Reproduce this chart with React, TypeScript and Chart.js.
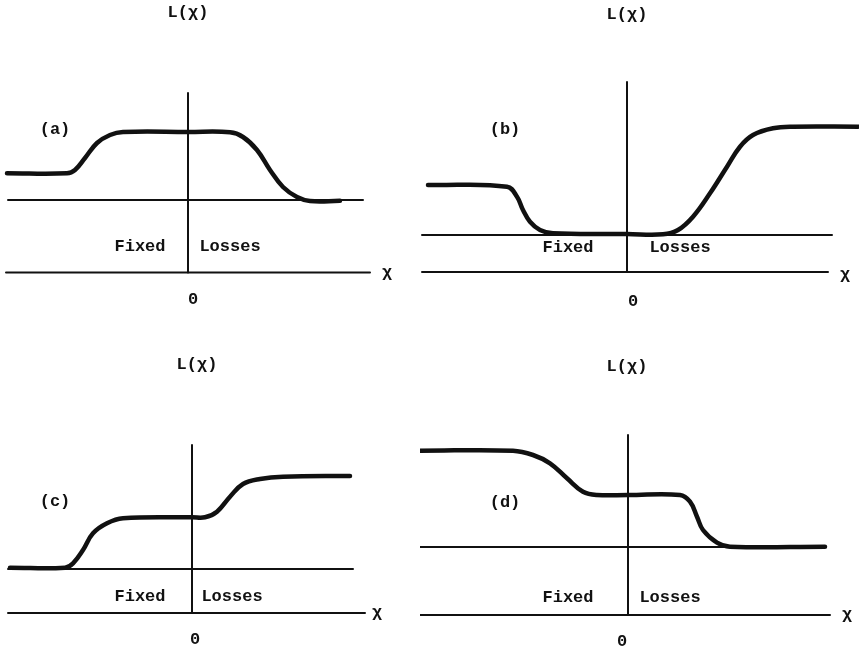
import React, { useEffect, useRef } from "react";
import { Chart, registerables } from "chart.js";

Chart.register(...registerables);

// ---- data (x in chi units, y in L units; 0 = the chi axis) ----
const panelTags = ["(a)", "(b)", "(c)", "(d)"];
const titleText = "L(χ)";
const axisText = "χ";
const originText = "0";
const leftText = "Fixed";
const rightText = "Losses";

const chiA = [-18.1, -12.1, -11.3, -10.3, -9.1, -7.8, -6.5, 0, 4.2, 5.5, 6.9, 8.2, 9.5, 10.9, 12.2, 15.2];
const lossA = [9.92, 9.92, 10.25, 11.45, 12.95, 13.75, 14.05, 14.05, 14.02, 13.55, 12.25, 10.25, 8.55, 7.55, 7.15, 7.17];

const chiB = [-19.9, -12.0, -11.0, -10.4, -9.7, -8.7, -7.4, 0, 3.6, 5.1, 6.6, 8.3, 10.0, 11.3, 12.6, 14.6, 16.6, 23.1];
const lossB = [8.7, 8.53, 7.53, 6.2, 5.03, 4.2, 3.87, 3.8, 3.77, 4.2, 5.53, 7.87, 10.53, 12.53, 13.7, 14.37, 14.53, 14.53];

const chiC = [-18.2, -12.7, -11.9, -10.9, -9.9, -8.5, -6.9, 0, 1.3, 2.5, 3.8, 5.1, 6.8, 9.1, 15.8];
const lossC = [4.53, 4.53, 4.97, 6.3, 7.97, 8.97, 9.47, 9.57, 9.57, 10.13, 11.63, 12.9, 13.4, 13.63, 13.7];

const chiD = [-20.8, -11.5, -9.5, -7.8, -6.1, -4.5, -3.1, 0, 5.2, 6.2, 6.9, 7.5, 8.9, 10.2, 19.7];
const lossD = [16.43, 16.43, 16.0, 15.17, 13.67, 12.33, 12.0, 12.0, 12.0, 11.33, 9.83, 8.5, 7.23, 6.83, 6.83];

const refLevels = [7.25, 3.7, 4.4, 6.8];
const refStart = [-18.0, -20.5, -18.4, -20.8];
const refEnd = [17.5, 20.5, 16.1, 19.7];
const chiAxisStart = [-18.2, -20.5, -18.4, -20.8];
const chiAxisEnd = [18.2, 20.1, 17.3, 20.2];
const lossAxisTop = [17.95, 19.0, 16.8, 18.0];

const curvesX = [chiA, chiB, chiC, chiD];
const curvesY = [lossA, lossB, lossC, lossD];

// ---- layout (pixels) ----
const UNIT_PX = 10;
const panelBoxes = [
  { left: 0, top: 0, w: 420, h: 325, ox: 188, oy: 272.5 },
  { left: 420, top: 0, w: 439, h: 325, ox: 627, oy: 272 },
  { left: 0, top: 325, w: 420, h: 326, ox: 192, oy: 613 },
  { left: 420, top: 325, w: 439, h: 326, ox: 628, oy: 615 },
];
// text offsets from the origin pixel
const textOffsets = [
  { title: [0, -259.5], tag: [-133, -142.5], fixed: [-48, -25.5], losses: [42, -25.5], zero: [5, 27.5], chi: [199, 0] },
  { title: [0, -257], tag: [-122, -142], fixed: [-59, -24], losses: [53, -24], zero: [6, 30], chi: [218, 3] },
  { title: [5, -248], tag: [-137, -111], fixed: [-52, -16], losses: [40, -16], zero: [3, 27], chi: [185, 0] },
  { title: [-1, -248], tag: [-123, -112], fixed: [-60, -17], losses: [42, -17], zero: [-6, 27], chi: [219, 0] },
];

const FONT = "bold 17px 'Liberation Mono', 'Courier New', monospace";
const INK = "#111";

function makeChart(canvas: HTMLCanvasElement, i: number) {
  const box = panelBoxes[i];
  const xMin = (box.left - box.ox) / UNIT_PX;
  const xMax = (box.left + box.w - box.ox) / UNIT_PX;
  const yMax = (box.oy - box.top) / UNIT_PX;
  const yMin = (box.oy - box.top - box.h) / UNIT_PX;
  const off = textOffsets[i];

  const textPlugin = {
    id: "panelText" + i,
    afterDraw(chart: any) {
      const ctx = chart.ctx;
      const px = chart.scales.x.getPixelForValue(0);
      const py = chart.scales.y.getPixelForValue(0);
      ctx.save();
      ctx.fillStyle = INK;
      ctx.font = FONT;
      ctx.textBaseline = "middle";
      ctx.textAlign = "center";
      const put = (t: string, o: number[]) => ctx.fillText(t, px + o[0], py + o[1]);
      put(titleText, off.title);
      put(panelTags[i], off.tag);
      put(leftText, off.fixed);
      put(rightText, off.losses);
      put(originText, off.zero);
      put(axisText, off.chi);
      ctx.restore();
    },
  };

  const lineDs = (data: { x: number; y: number }[], width: number, tension = 0) => ({
    data,
    borderColor: INK,
    borderWidth: width,
    pointRadius: 0,
    fill: false,
    tension,
    borderCapStyle: "round",
    borderJoinStyle: "round",
  });

  const curve = curvesX[i].map((x, k) => ({ x, y: curvesY[i][k] }));

  return new Chart(canvas, {
    type: "line",
    data: {
      datasets: [
        lineDs([{ x: chiAxisStart[i], y: 0 }, { x: chiAxisEnd[i], y: 0 }], 2),
        lineDs([{ x: 0, y: 0 }, { x: 0, y: lossAxisTop[i] }], 2),
        lineDs([{ x: refStart[i], y: refLevels[i] }, { x: refEnd[i], y: refLevels[i] }], 2),
        lineDs(curve, 4.5, 0.4),
      ] as any,
    },
    options: {
      animation: false,
      responsive: false,
      maintainAspectRatio: false,
      layout: { padding: 0 },
      events: [],
      plugins: { legend: { display: false }, tooltip: { enabled: false } },
      scales: {
        x: { type: "linear", min: xMin, max: xMax, display: false },
        y: { type: "linear", min: yMin, max: yMax, display: false },
      },
    } as any,
    plugins: [textPlugin],
  });
}

export default function App() {
  const refs = [useRef<HTMLCanvasElement>(null), useRef<HTMLCanvasElement>(null), useRef<HTMLCanvasElement>(null), useRef<HTMLCanvasElement>(null)];
  useEffect(() => {
    const charts = refs.map((r, i) => makeChart(r.current as HTMLCanvasElement, i));
    return () => charts.forEach((c) => c.destroy());
  }, []);
  return (
    <div style={{ position: "absolute", left: 0, top: 0, width: 859, height: 651, background: "#fff", overflow: "hidden" }}>
      {panelBoxes.map((b, i) => (
        <canvas
          key={i}
          ref={refs[i]}
          width={b.w}
          height={b.h}
          style={{ position: "absolute", left: b.left, top: b.top, width: b.w, height: b.h }}
        />
      ))}
    </div>
  );
}
